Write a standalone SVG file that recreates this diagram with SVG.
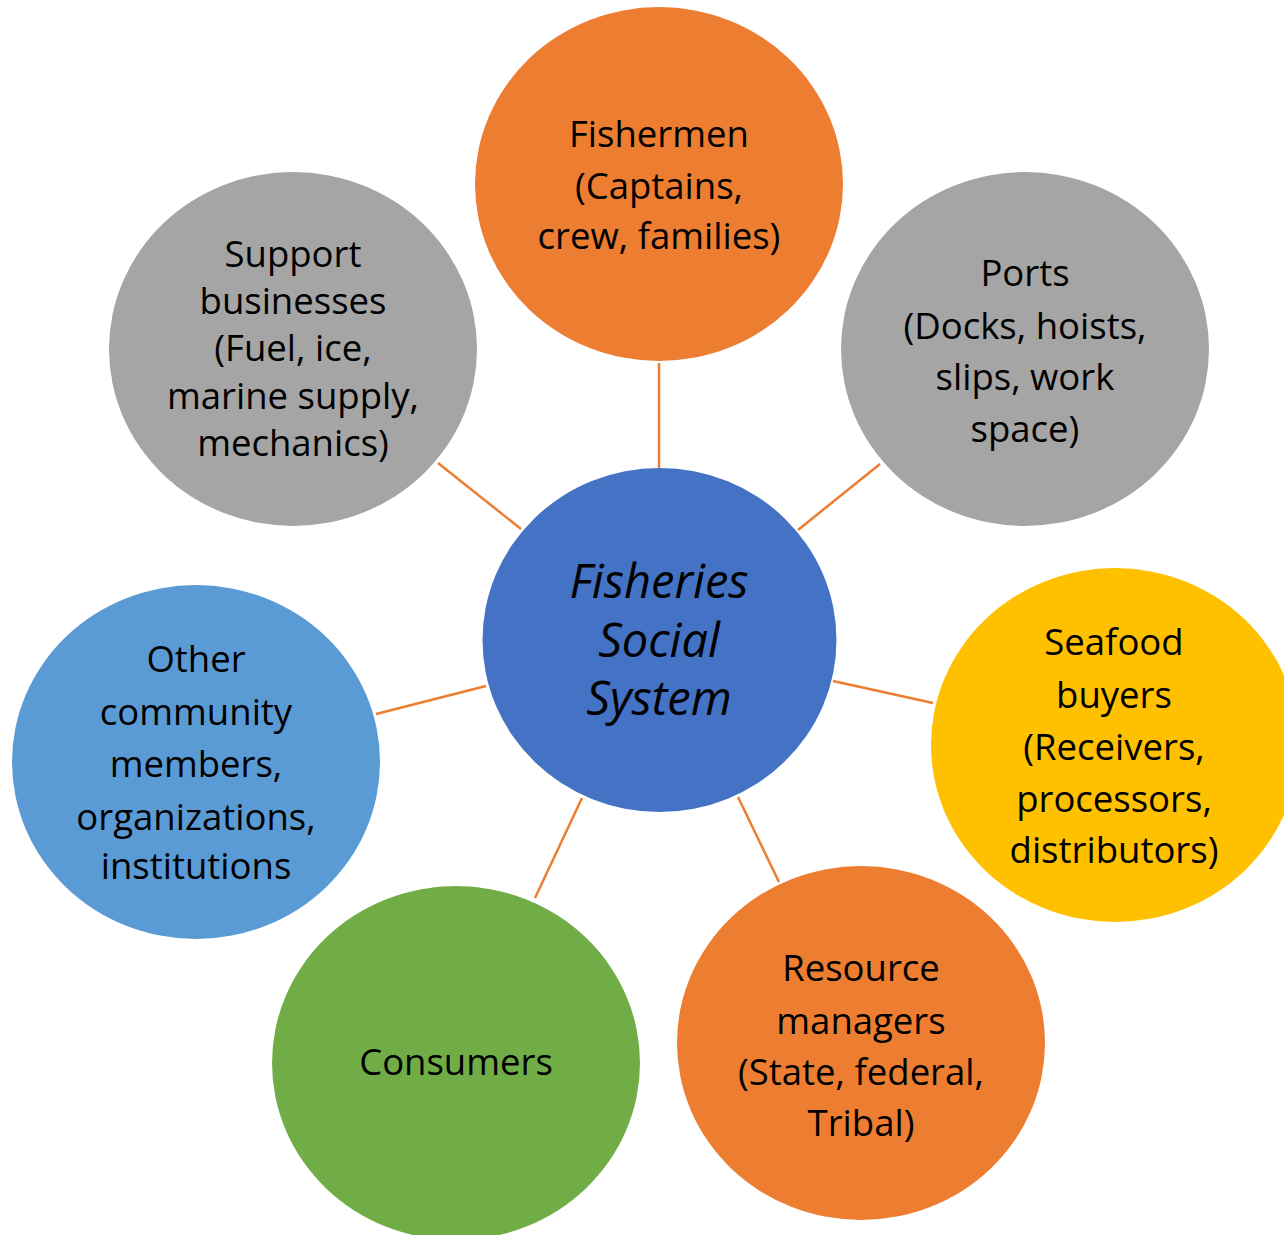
<svg xmlns="http://www.w3.org/2000/svg" width="1284" height="1235" viewBox="0 0 1284 1235">
<style>
.n text{font-family:"Open Sans","Liberation Sans",sans-serif;font-size:36.5px;fill:#000;text-anchor:middle}
.c text{font-family:"Open Sans","Liberation Sans",sans-serif;font-size:47px;font-style:italic;fill:#000;text-anchor:middle}
.links line{stroke:#ED7D31;stroke-width:2.5}
</style>
<rect width="1284" height="1235" fill="#fff"/>
<g class="links">
<line x1="659" y1="363" x2="659" y2="468"/>
<line x1="880" y1="464" x2="798" y2="530"/>
<line x1="833" y1="681" x2="933" y2="703"/>
<line x1="738" y1="797" x2="779" y2="882"/>
<line x1="582" y1="798" x2="535" y2="898"/>
<line x1="486" y1="686" x2="376" y2="714"/>
<line x1="438" y1="463" x2="521" y2="529"/>
</g>
<g id="center" class="c">
<ellipse cx="659.5" cy="640" rx="177" ry="172" fill="#4472C4"/>
<text x="659" y="598">Fisheries</text>
<text x="659" y="657">Social</text>
<text x="659" y="715">System</text>
</g>
<g id="fishermen" class="n">
<ellipse cx="659" cy="184" rx="184" ry="177" fill="#ED7D31"/>
<text x="659" y="147">Fishermen</text>
<text x="659" y="199">(Captains,</text>
<text x="659" y="249">crew, families)</text>
</g>
<g id="ports" class="n">
<ellipse cx="1025" cy="349" rx="184" ry="177" fill="#A5A5A5"/>
<text x="1025" y="286">Ports</text>
<text x="1025" y="339">(Docks, hoists,</text>
<text x="1025" y="390">slips, work</text>
<text x="1025" y="442">space)</text>
</g>
<g id="support" class="n">
<ellipse cx="293" cy="349" rx="184" ry="177" fill="#A5A5A5"/>
<text x="293" y="267">Support</text>
<text x="293" y="314">businesses</text>
<text x="293" y="361">(Fuel, ice,</text>
<text x="293" y="409">marine supply,</text>
<text x="293" y="456">mechanics)</text>
</g>
<g id="seafood" class="n">
<ellipse cx="1115" cy="745" rx="184" ry="177" fill="#FFC000"/>
<text x="1114" y="655">Seafood</text>
<text x="1114" y="708">buyers</text>
<text x="1114" y="760">(Receivers,</text>
<text x="1114" y="812">processors,</text>
<text x="1114" y="863">distributors)</text>
</g>
<g id="other" class="n">
<ellipse cx="196" cy="762" rx="184" ry="177" fill="#5B9BD5"/>
<text x="196" y="672">Other</text>
<text x="196" y="725">community</text>
<text x="196" y="777">members,</text>
<text x="196" y="830">organizations,</text>
<text x="196" y="879">institutions</text>
</g>
<g id="consumers" class="n">
<ellipse cx="456" cy="1063" rx="184" ry="177" fill="#70AD47"/>
<text x="456" y="1075">Consumers</text>
</g>
<g id="resource" class="n">
<ellipse cx="861" cy="1043" rx="184" ry="177" fill="#ED7D31"/>
<text x="861" y="981">Resource</text>
<text x="861" y="1034">managers</text>
<text x="861" y="1085">(State, federal,</text>
<text x="861" y="1136">Tribal)</text>
</g>
</svg>
